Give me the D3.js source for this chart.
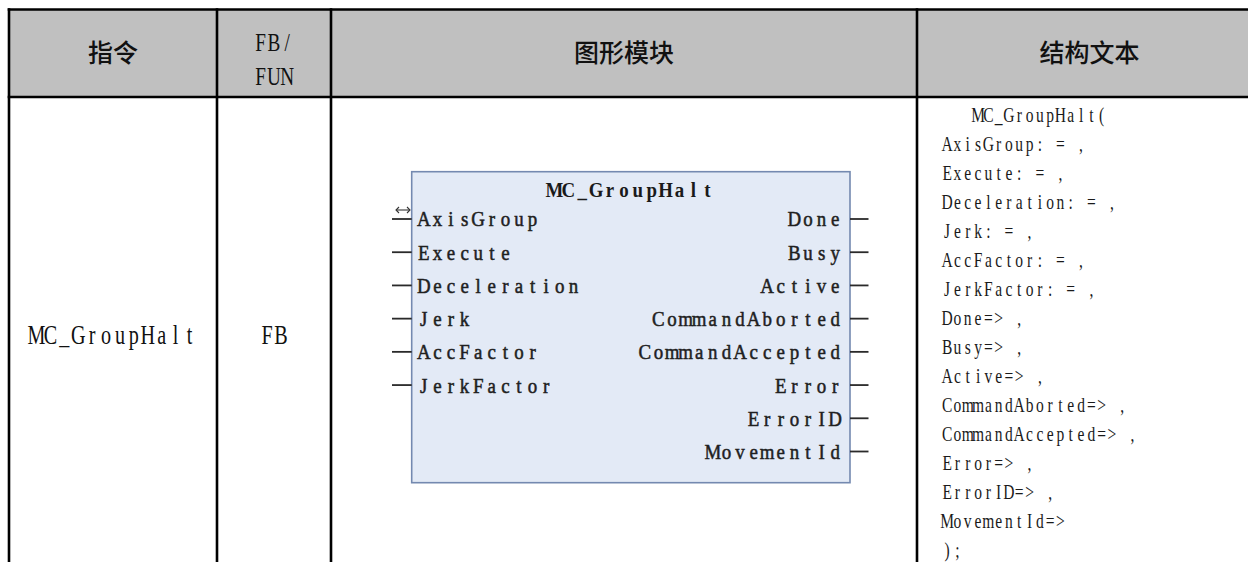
<!DOCTYPE html>
<html>
<head>
<meta charset="utf-8">
<script src="https://cdn.jsdelivr.net/npm/d3@7"></script>
<style>
  html, body { margin: 0; padding: 0; background: #fff; }
  svg { display: block; }
</style>
</head>
<body>
<svg id="chart" width="1248" height="562"></svg>
<script>
// ---- data ----
const headerLabels = ["指令", "FB/\nFUN", "图形模块", "结构文本"];
const instructionNames = ["MC_GroupHalt"];
const blockTypes = ["FB"];
const blockTitle = "MC_GroupHalt";
const inputPins = ["AxisGroup", "Execute", "Deceleration", "Jerk", "AccFactor", "JerkFactor"];
const inOutPins = ["AxisGroup"];
const outputPins = ["Done", "Busy", "Active", "CommandAborted", "CommandAccepted", "Error", "ErrorID", "MovementId"];
const stLines = [
  "   MC_GroupHalt(",
  "AxisGroup: = ,",
  "Execute: = ,",
  "Deceleration: = ,",
  "Jerk: = ,",
  "AccFactor: = ,",
  "JerkFactor: = ,",
  "Done=> ,",
  "Busy=> ,",
  "Active=> ,",
  "CommandAborted=> ,",
  "CommandAccepted=> ,",
  "Error=> ,",
  "ErrorID=> ,",
  "MovementId=>",
  ");"
];

// ---- layout ----
const W = 1248, H = 562;
const colEdges = [9, 217, 331, 917, 1262];
const tableTop = 9.5, headerBottom = 97, tableBottom = 600;
const svg = d3.select("#chart");

const colCenter = i => (colEdges[i] + colEdges[i + 1]) / 2;

// fixed-pitch text: each glyph centred in its own cell
function monoText(parent, str, opts) {
  const { x0, baseline, cell, size, sx, anchor, fill, family, weight, stroke } = opts;
  const n = str.length;
  let start = x0;
  if (anchor === "middle") start = x0 - n * cell / 2;
  if (anchor === "end") start = x0 - n * cell;
  const xs = [];
  for (let i = 0; i < n; i++) xs.push(((start + cell * (i + 0.5)) / sx).toFixed(2));
  const t = parent.append("text")
    .attr("transform", `scale(${sx},1)`)
    .attr("x", xs.join(" "))
    .attr("y", baseline)
    .attr("text-anchor", "middle")
    .attr("font-family", family || "'Liberation Serif', serif")
    .attr("font-size", size)
    .attr("font-weight", weight || "normal")
    .attr("fill", fill || "#111")
    .attr("xml:space", "preserve")
    .text(str);
  if (stroke) t.attr("stroke", fill || "#111").attr("stroke-width", stroke);
  return t;
}

// header background
svg.append("rect")
  .attr("x", colEdges[0]).attr("y", tableTop)
  .attr("width", W - colEdges[0] + 20).attr("height", headerBottom - tableTop)
  .attr("fill", "#c0c0c0");

// header labels
const hdr = svg.append("g");
headerLabels.forEach((lab, i) => {
  if (lab.includes("\n")) {
    const parts = lab.split("\n");
    const ly = d3.scaleLinear().domain([0, parts.length - 1]).range([51, 85]);
    parts.forEach((p, k) => {
      monoText(hdr, p, { x0: colCenter(i), baseline: ly(k), cell: 13.3, size: 26, sx: 0.74, anchor: "middle", fill: "#111" });
    });
  } else {
    hdr.append("text")
      .attr("x", colCenter(i)).attr("y", 53)
      .attr("dy", "0.36em")
      .attr("text-anchor", "middle")
      .attr("font-family", "'Noto Sans CJK SC', sans-serif")
      .attr("font-size", 25)
      .attr("font-weight", 500)
      .attr("fill", "#111")
      .text(lab);
  }
});

// grid lines
const grid = svg.append("g").attr("stroke", "#000").attr("stroke-width", 2.6);
[tableTop, headerBottom].forEach(y => {
  grid.append("line").attr("x1", colEdges[0] - 1.3).attr("x2", W + 5).attr("y1", y).attr("y2", y);
});
colEdges.slice(0, 4).forEach(x => {
  grid.append("line").attr("x1", x).attr("x2", x).attr("y1", tableTop - 1.3).attr("y2", tableBottom);
});

// body: instruction name and type
instructionNames.forEach(name => {
  monoText(svg, name, { x0: colCenter(0), baseline: 344, cell: 13.9, size: 28, sx: 0.72, anchor: "middle" });
});
blockTypes.forEach(t => {
  monoText(svg, t, { x0: colCenter(1), baseline: 344, cell: 13.9, size: 28, sx: 0.72, anchor: "middle" });
});

// function block graphic
const box = { x0: 411.7, x1: 850, y0: 171.7, y1: 482.7 };
const blk = svg.append("g");
blk.append("rect")
  .attr("x", box.x0).attr("y", box.y0)
  .attr("width", box.x1 - box.x0).attr("height", box.y1 - box.y0)
  .attr("fill", "#e3eaf6")
  .attr("stroke", "#7489b0")
  .attr("stroke-width", 1.6);

const courier = "'Liberation Serif', serif";
monoText(blk, blockTitle, { x0: (box.x0 + box.x1) / 2, baseline: 197, cell: 13.9, size: 22, sx: 0.86,
  anchor: "middle", family: courier, weight: "bold", fill: "#1a1a1a" });

const yPin = d3.scaleLinear().domain([0, 7]).range([219, 451.5]);

inputPins.forEach((p, i) => {
  blk.append("line")
    .attr("x1", 392).attr("x2", box.x0)
    .attr("y1", yPin(i)).attr("y2", yPin(i))
    .attr("stroke", "#2a2a2a").attr("stroke-width", 1.8);
  monoText(blk, p, { x0: 417, baseline: yPin(i) + 7.5, cell: 13.6, size: 22, sx: 0.86,
    anchor: "start", family: courier, fill: "#1f1f1f", stroke: 0.55 });
});

outputPins.forEach((p, i) => {
  blk.append("line")
    .attr("x1", box.x1).attr("x2", 868.5)
    .attr("y1", yPin(i)).attr("y2", yPin(i))
    .attr("stroke", "#2a2a2a").attr("stroke-width", 1.8);
  monoText(blk, p, { x0: 842, baseline: yPin(i) + 7.5, cell: 13.6, size: 22, sx: 0.86,
    anchor: "end", family: courier, fill: "#1f1f1f", stroke: 0.55 });
});

// in-out marker (double arrow) above the AxisGroup pin
inOutPins.forEach(p => {
  const i = inputPins.indexOf(p);
  const ay = yPin(i) - 9;
  const g = blk.append("g").attr("stroke", "#333").attr("stroke-width", 1.1).attr("fill", "none");
  g.append("line").attr("x1", 396).attr("x2", 410).attr("y1", ay).attr("y2", ay);
  g.append("path").attr("d", `M399,${ay - 3} L396,${ay} L399,${ay + 3}`);
  g.append("path").attr("d", `M407,${ay - 3} L410,${ay} L407,${ay + 3}`);
});

// structured text column
const yST = d3.scaleLinear().domain([0, stLines.length - 1]).range([122, 557]);
const st = svg.append("g");
stLines.forEach((line, i) => {
  monoText(st, line, { x0: 942, baseline: yST(i), cell: 10.3, size: 21, sx: 0.74, anchor: "start", fill: "#1a1a1a" });
});
</script>
</body>
</html>
